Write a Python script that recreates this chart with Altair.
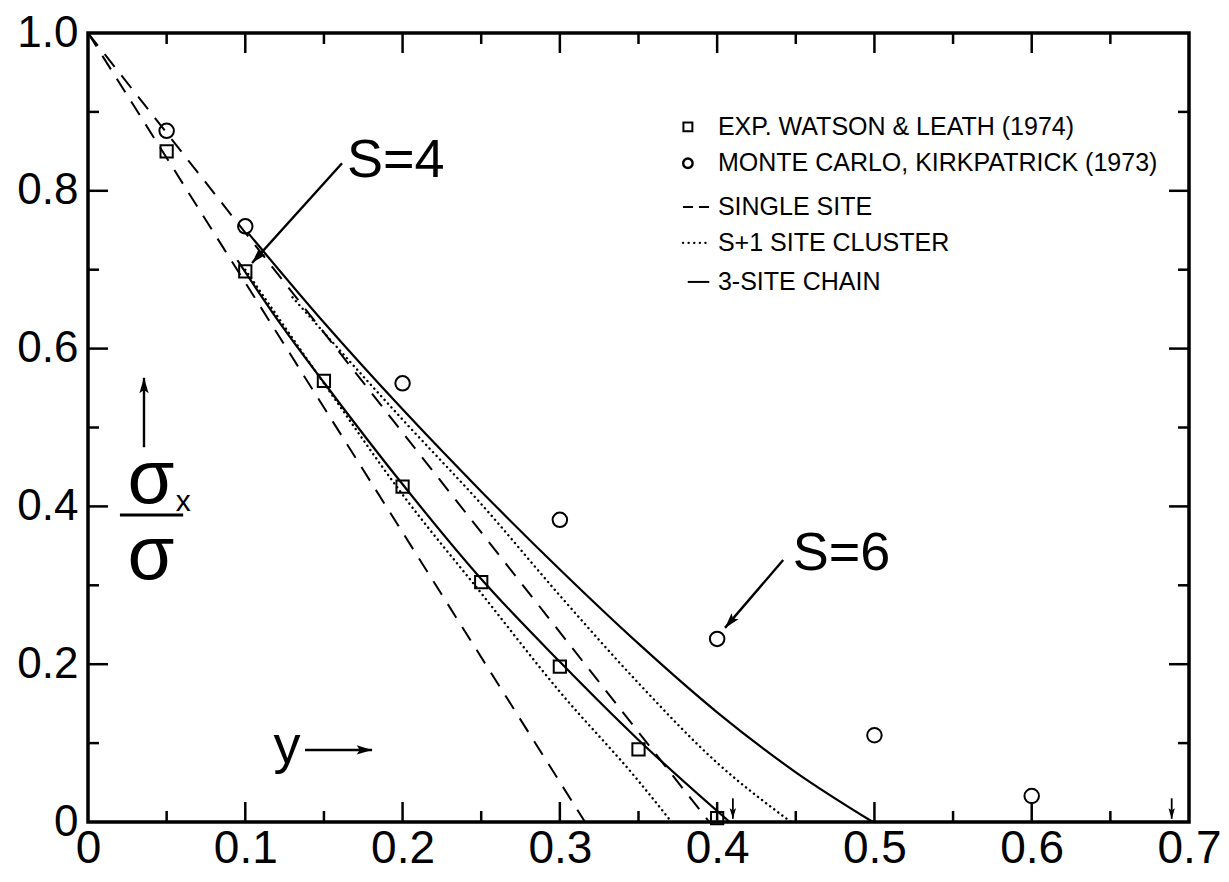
import altair as alt
import pandas as pd
import numpy as np

FONT = "Liberation Sans"
W, H = 1101, 789
X_DOMAIN = [0.0, 0.7]
Y_DOMAIN = [0.0, 1.0]

# ---------------- data ----------------
exp_x = [0.05, 0.10, 0.15, 0.20, 0.25, 0.30, 0.35, 0.40]
exp_y = [0.850, 0.698, 0.559, 0.425, 0.304, 0.197, 0.092, 0.005]

mc_x = [0.05, 0.10, 0.20, 0.30, 0.40, 0.50, 0.60]
mc_y = [0.876, 0.755, 0.556, 0.383, 0.232, 0.110, 0.033]

single_s4_x = [0.0, 0.316]
single_s4_y = [1.0, 0.0]
single_s6_x = [0.0, 0.395]
single_s6_y = [1.0, 0.0]

cluster_s4_x = [0.10, 0.15, 0.20, 0.25, 0.30, 0.35, 0.371]
cluster_s4_y = [0.700, 0.556, 0.415, 0.290, 0.165, 0.052, 0.0]
cluster_s6_x = [0.13, 0.20, 0.25, 0.30, 0.35, 0.40, 0.447]
cluster_s6_y = [0.665, 0.510, 0.403, 0.287, 0.176, 0.075, 0.0]

chain_s4_x = [0.095, 0.12, 0.15, 0.20, 0.25, 0.30, 0.35, 0.408]
chain_s4_y = [0.712, 0.638, 0.557, 0.428, 0.308, 0.203, 0.104, 0.0]
chain_s6_x = [0.102, 0.15, 0.20, 0.25, 0.30, 0.35, 0.40, 0.45, 0.499]
chain_s6_y = [0.746, 0.633, 0.523, 0.419, 0.320, 0.226, 0.139, 0.063, 0.0]

# thresholds marked by small arrows on the x axis
threshold_x = [0.41, 0.689]

# axis ticks / labels
x_label_values = [0.0, 0.1, 0.2, 0.3, 0.4, 0.5, 0.6, 0.7]
y_label_values = [0.0, 0.2, 0.4, 0.6, 0.8, 1.0]
x_major = [0.1, 0.2, 0.3, 0.4, 0.5, 0.6]
x_minor = [0.05, 0.15, 0.25, 0.35, 0.45, 0.55, 0.65]
y_major = [0.2, 0.4, 0.6, 0.8]
y_minor = [0.1, 0.3, 0.5, 0.7, 0.9]

# legend
legend_labels = ["EXP. WATSON & LEATH (1974)",
                 "MONTE CARLO, KIRKPATRICK (1973)",
                 "SINGLE SITE",
                 "S+1 SITE CLUSTER",
                 "3-SITE CHAIN"]
legend_row_y = [0.881, 0.835, 0.7795, 0.734, 0.6845]
legend_sym_x = 0.3814
legend_text_x = 0.4005
legend_line_x = [0.3783, 0.3950]

# annotations (data coordinates)
ann_text = ["S=4", "S=6"]
ann_text_x = [0.1647, 0.448]
ann_text_y = [0.8175, 0.319]
arrow_x0 = [0.1615, 0.442, 0.0356, 0.138]
arrow_y0 = [0.835, 0.332, 0.475, 0.0913]
arrow_x1 = [0.1043, 0.405, 0.0356, 0.1806]
arrow_y1 = [0.7085, 0.246, 0.563, 0.0913]

# ---------------- scales / axes ----------------
xs = alt.Scale(domain=X_DOMAIN, nice=False, zero=False)
ys = alt.Scale(domain=Y_DOMAIN, nice=False, zero=False)
lab_expr = "datum.value == 0 ? '0' : format(datum.value, '.1f')"
xaxis = alt.Axis(values=x_label_values, labelExpr=lab_expr, domain=False, ticks=False,
                 grid=False, labelFontSize=46, labelFont=FONT, labelColor="black",
                 labelPadding=4, labelFlush=False, labelOverlap=False, title=None)
yaxis = alt.Axis(values=y_label_values, labelExpr=lab_expr, domain=False, ticks=False,
                 grid=False, labelFontSize=44, labelFont=FONT, labelColor="black",
                 labelPadding=10, labelFlush=False, labelOverlap=False, title=None)


def X(f="x"):
    return alt.X(f"{f}:Q", scale=xs, axis=xaxis)


def Y(f="y"):
    return alt.Y(f"{f}:Q", scale=ys, axis=yaxis)


def cdf(name, xv, yv):
    return pd.DataFrame({"x": xv, "y": yv, "curve": name})


layers = []

dashed = pd.concat([cdf("single4", single_s4_x, single_s4_y),
                    cdf("single6", single_s6_x, single_s6_y)])
layers.append(alt.Chart(dashed).mark_line(color="black", strokeWidth=2, strokeDash=[16, 11])
              .encode(X(), Y(), detail="curve:N"))

dotted = pd.concat([cdf("clu4", cluster_s4_x, cluster_s4_y),
                    cdf("clu6", cluster_s6_x, cluster_s6_y)])
layers.append(alt.Chart(dotted).mark_line(color="black", strokeWidth=2.4, strokeDash=[0.1, 5],
                                          strokeCap="round", interpolate="monotone")
              .encode(X(), Y(), detail="curve:N"))

solid = pd.concat([cdf("ch4", chain_s4_x, chain_s4_y),
                   cdf("ch6", chain_s6_x, chain_s6_y)])
layers.append(alt.Chart(solid).mark_line(color="black", strokeWidth=2.2, interpolate="monotone")
              .encode(X(), Y(), detail="curve:N"))

layers.append(alt.Chart(pd.DataFrame({"x": exp_x, "y": exp_y}))
              .mark_point(shape="square", filled=False, size=150, strokeWidth=2,
                          color="black", opacity=1)
              .encode(X(), Y()))
layers.append(alt.Chart(pd.DataFrame({"x": mc_x, "y": mc_y}))
              .mark_point(shape="circle", filled=False, size=210, strokeWidth=2,
                          color="black", opacity=1)
              .encode(X(), Y()))

# inward ticks on all four sides
MAJ, MIN = 20, 11
for vals, ln in [(x_major, MAJ), (x_minor, MIN)]:
    d = pd.DataFrame({"x": vals, "y": 0.0})
    layers.append(alt.Chart(d).mark_rule(color="black", strokeWidth=2.5, y2Offset=-ln)
                  .encode(X(), Y(), y2=alt.Y2("y:Q")))
    d = pd.DataFrame({"x": vals, "y": 1.0})
    layers.append(alt.Chart(d).mark_rule(color="black", strokeWidth=2.5, y2Offset=ln)
                  .encode(X(), Y(), y2=alt.Y2("y:Q")))
for vals, ln in [(y_major, MAJ), (y_minor, MIN)]:
    d = pd.DataFrame({"x": 0.0, "y": vals})
    layers.append(alt.Chart(d).mark_rule(color="black", strokeWidth=2.5, x2Offset=ln)
                  .encode(X(), Y(), x2=alt.X2("x:Q")))
    d = pd.DataFrame({"x": 0.7, "y": vals})
    layers.append(alt.Chart(d).mark_rule(color="black", strokeWidth=2.5, x2Offset=-ln)
                  .encode(X(), Y(), x2=alt.X2("x:Q")))

# arrowhead path: tip at origin, pointing up before rotation (relative commands)
HEAD = "m0,0 l0.45,1.5 l-0.45,-0.3 l-0.45,0.3 z"

# threshold arrows on the x axis
thr = pd.DataFrame({"x": threshold_x, "y": 0.030, "y2": 0.004, "ang": 180.0})
layers.append(alt.Chart(thr).mark_rule(color="black", strokeWidth=1.8)
              .encode(X(), Y(), y2="y2:Q"))
layers.append(alt.Chart(thr).mark_point(shape=HEAD, filled=True, size=200, color="black",
                                        opacity=1, strokeWidth=0)
              .encode(X(), Y("y2"), angle=alt.Angle("ang:Q", scale=None)))

# annotation arrows
PXX = W / (X_DOMAIN[1] - X_DOMAIN[0])
PXY = H / (Y_DOMAIN[1] - Y_DOMAIN[0])
arr = pd.DataFrame({"x": arrow_x0, "y": arrow_y0, "x2": arrow_x1, "y2": arrow_y1})
dxp = (arr["x2"] - arr["x"]) * PXX
dyp = -(arr["y2"] - arr["y"]) * PXY
arr["ang"] = (np.degrees(np.arctan2(dxp, -dyp)) + 360) % 360
layers.append(alt.Chart(arr).mark_rule(color="black", strokeWidth=2.4)
              .encode(X(), Y(), x2="x2:Q", y2="y2:Q"))
layers.append(alt.Chart(arr).mark_point(shape=HEAD, filled=True, size=420, color="black",
                                        opacity=1, strokeWidth=0)
              .encode(X("x2"), Y("y2"), angle=alt.Angle("ang:Q", scale=None)))

# S=4 / S=6 labels
layers.append(alt.Chart(pd.DataFrame({"x": ann_text_x, "y": ann_text_y, "t": ann_text}))
              .mark_text(font=FONT, fontSize=54, align="left", baseline="alphabetic", color="black")
              .encode(X(), Y(), text="t:N"))

# y arrow label
layers.append(alt.Chart(pd.DataFrame({"x": [0.1265], "y": [0.075], "t": ["y"]}))
              .mark_text(font=FONT, fontSize=54, align="center", baseline="alphabetic", color="black")
              .encode(X(), Y(), text="t:N"))

# sigma_x / sigma label
sig = pd.DataFrame({"x": [0.0400, 0.0400], "y": [0.404, 0.3085], "t": ["σ", "σ"]})
layers.append(alt.Chart(sig).mark_text(font=FONT, fontSize=76, align="center",
                                       baseline="alphabetic", color="black")
              .encode(X(), Y(), text="t:N"))
layers.append(alt.Chart(pd.DataFrame({"x": [0.0605], "y": [0.394], "t": ["x"]}))
              .mark_text(font=FONT, fontSize=30, align="center", baseline="alphabetic", color="black")
              .encode(X(), Y(), text="t:N"))
layers.append(alt.Chart(pd.DataFrame({"x": [0.0203], "x2": [0.0605], "y": [0.389]}))
              .mark_rule(color="black", strokeWidth=3)
              .encode(X(), Y(), x2="x2:Q"))

# legend
leg = pd.DataFrame({"x": legend_text_x, "y": legend_row_y, "t": legend_labels})
layers.append(alt.Chart(leg).mark_text(font=FONT, fontSize=25, align="left", baseline="middle",
                                       color="black")
              .encode(X(), Y(), text="t:N"))
layers.append(alt.Chart(pd.DataFrame({"x": [legend_sym_x], "y": [legend_row_y[0]]}))
              .mark_point(shape="square", filled=False, size=80, strokeWidth=2, color="black", opacity=1)
              .encode(X(), Y()))
layers.append(alt.Chart(pd.DataFrame({"x": [legend_sym_x], "y": [legend_row_y[1]]}))
              .mark_point(shape="circle", filled=False, size=90, strokeWidth=2.4, color="black", opacity=1)
              .encode(X(), Y()))
layers.append(alt.Chart(pd.DataFrame({"x": [legend_line_x[0]], "x2": [legend_line_x[1]], "y": [legend_row_y[2]]}))
              .mark_rule(color="black", strokeWidth=2, strokeDash=[10, 6])
              .encode(X(), Y(), x2="x2:Q"))
layers.append(alt.Chart(pd.DataFrame({"x": [legend_line_x[0]], "x2": [legend_line_x[1]], "y": [legend_row_y[3]]}))
              .mark_rule(color="black", strokeWidth=2.4, strokeDash=[0.1, 5.5], strokeCap="round")
              .encode(X(), Y(), x2="x2:Q"))
layers.append(alt.Chart(pd.DataFrame({"x": [legend_line_x[0] + 0.003], "x2": [legend_line_x[1]], "y": [legend_row_y[4]]}))
              .mark_rule(color="black", strokeWidth=2)
              .encode(X(), Y(), x2="x2:Q"))

chart = (alt.layer(*layers)
         .properties(width=W, height=H, autosize=alt.AutoSizeParams(type="none"),
                     padding={"left": 80, "top": 25, "right": 32, "bottom": 52},
                     background="white")
         .configure_view(stroke="black", strokeWidth=3.5))

chart.save("out.html", embed_options={"renderer": "svg", "actions": False})
